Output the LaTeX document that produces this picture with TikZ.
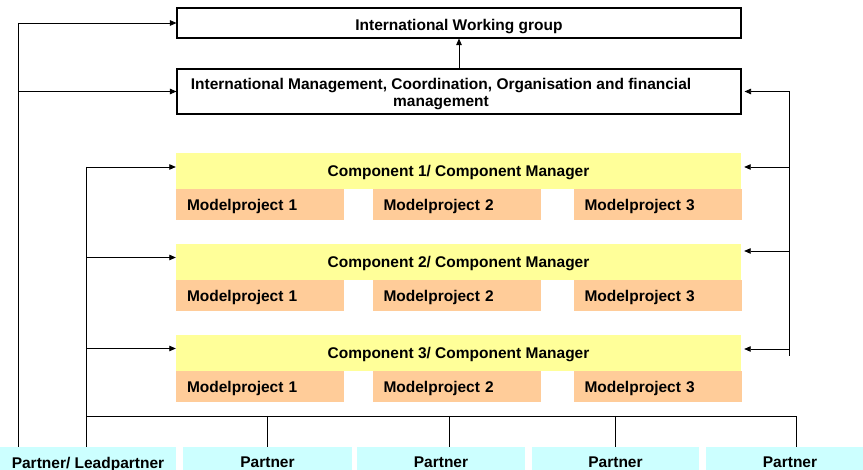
\documentclass[tikz,border=0pt]{standalone}
\usepackage{fontspec}
\setmainfont{Liberation Sans}
\usetikzlibrary{arrows.meta,positioning,calc}
\definecolor{compfill}{HTML}{FFFF99}
\definecolor{mpfill}{HTML}{FFCC99}
\definecolor{partfill}{HTML}{CCFFFF}

\begin{document}
\begin{tikzpicture}[
  x=1pt, y=-1pt,
  font=\fontsize{15.5}{17.5}\selectfont\bfseries,
  bx/.style ={draw=black, line width=1.1pt, minimum width=564pt, inner sep=0pt, text depth=0pt},
  cmp/.style={fill=compfill, minimum width=565pt, minimum height=36pt, inner sep=0pt, text depth=0pt},
  mp/.style ={fill=mpfill, minimum height=31pt, text width=146pt, inner xsep=11pt, inner ysep=0pt,
              align=left, text depth=0pt},
  prt/.style={fill=partfill, minimum height=31pt, inner sep=0pt, align=center, text depth=0pt},
  ln/.style ={line width=0.8pt},
  ar/.style ={ln, -{Triangle[length=6.5pt, width=5.5pt]}}
]
\clip (0,0) rectangle (863,470);

% ---------- management boxes ----------
\node[bx, minimum height=30pt, text height=16pt] (iwg) at (459,23) {International Working group};
\node[bx, minimum height=45pt] (img) at (459,91.5) {};
\node[align=center, font=\fontsize{15.5}{16.5}\selectfont\bfseries] (imgtxt) at (441,94)
  {International Management, Coordination, Organisation and financial\\management};

% ---------- components ----------
\node[cmp] (c1)  at (458.5,171)   {Component 1/ Component Manager};
\node[mp]  (m11) at (260,204.5)   {Modelproject 1};
\node[mp]  (m12) at (456.5,204.5) {Modelproject 2};
\node[mp]  (m13) at (657.5,204.5) {Modelproject 3};

\node[cmp] (c2)  at (458.5,262)   {Component 2/ Component Manager};
\node[mp]  (m21) at (260,295.5)   {Modelproject 1};
\node[mp]  (m22) at (456.5,295.5) {Modelproject 2};
\node[mp]  (m23) at (657.5,295.5) {Modelproject 3};

\node[cmp] (c3)  at (458.5,353)   {Component 3/ Component Manager};
\node[mp]  (m31) at (260,386.5)   {Modelproject 1};
\node[mp]  (m32) at (456.5,386.5) {Modelproject 2};
\node[mp]  (m33) at (657.5,386.5) {Modelproject 3};

% ---------- partners ----------
\node[prt, minimum width=176pt] (p1) at (88,462.5)    {Partner/ Leadpartner};
\node[prt, minimum width=169pt] (p2) at (267.5,462.5) {Partner};
\node[prt, minimum width=168pt] (p3) at (441,462.5)   {Partner};
\node[prt, minimum width=167pt] (p4) at (615.5,462.5) {Partner};
\node[prt, minimum width=168pt] (p5) at (790,462.5)   {Partner};

% ---------- outer left line ----------
\coordinate (ol) at (18,23);
\draw[ln] (ol) -- (ol |- p1.north);
\draw[ar] (ol) -- (iwg.west);
\draw[ar] (ol |- img.west) -- (img.west);
\draw[ar] (img.north) -- (iwg.south);

% ---------- inner left line ----------
\coordinate (il) at (86,167);
\draw[ln] (il) -- (il |- p1.north);
\draw[ar] (il) -- ([yshift=4pt]c1.west);
\draw[ar] ([yshift=4.5pt]c2.west -| il) -- ([yshift=4.5pt]c2.west);
\draw[ar] ([yshift=4.5pt]c3.west -| il) -- ([yshift=4.5pt]c3.west);

% ---------- right line ----------
\coordinate (rt) at (789,91.5);
\draw[ln] (rt) -- (789,356);
\draw[ar] (rt) -- ([xshift=3pt]img.east);
\draw[ar] ([yshift=4pt]c1.east -| rt) -- ([xshift=3pt,yshift=4pt]c1.east);
\draw[ar] ([yshift=11pt]c2.east -| rt) -- ([xshift=3pt,yshift=11pt]c2.east);
\draw[ar] ([yshift=4pt]c3.east -| rt) -- ([xshift=3pt,yshift=4pt]c3.east);

% ---------- partner bus ----------
\coordinate (bus) at (86,416);
\coordinate (d3) at ($(p3.north)+(8,0)$);
\coordinate (d5) at ($(p5.north)+(6,0)$);
\draw[ln] (bus) -- (bus -| d5) -- (d5);
\draw[ln] (bus -| p2.north) -- (p2.north);
\draw[ln] (bus -| d3) -- (d3);
\draw[ln] (bus -| p4.north) -- (p4.north);
\end{tikzpicture}
\end{document}
